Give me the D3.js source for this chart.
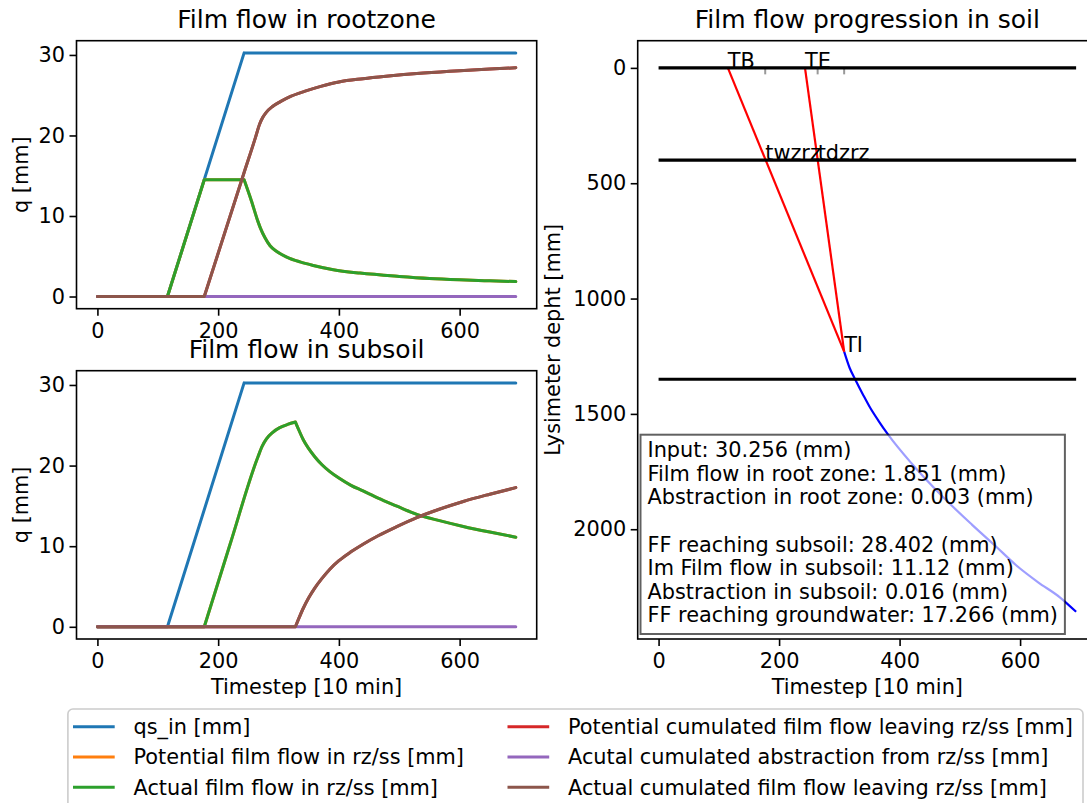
<!DOCTYPE html>
<html><head><meta charset="utf-8">
<script src="https://cdn.jsdelivr.net/npm/d3@7"></script>
<style>
body{margin:0;background:#fff}
svg{display:block;font-family:"DejaVu Sans",sans-serif}
</style></head><body>
<svg id="c" width="1087" height="803"></svg>
<script>
// ---------------- data ----------------
const seriesLabels = ["qs_in [mm]","Potential film flow in rz/ss [mm]","Actual film flow in rz/ss [mm]",
  "Potential cumulated film flow leaving rz/ss [mm]","Acutal cumulated abstraction from rz/ss [mm]",
  "Actual cumulated film flow leaving rz/ss [mm]"];
const seriesColors = ["#1f77b4","#ff7f0e","#2ca02c","#d62728","#9467bd","#8c564b"];

const qsIn = [[0,0],[116,0],[243,30.256],[693,30.256]];
const qsInCorners = [116,243];

// root zone
const rzActFilm = [[0,0],[116,0],[177,14.5],[243,14.5],[255,11.9],[266,9.3],[270,8.5],[277.6,7.3],[286,6.3],
  [297,5.6],[313.6,4.9],[335.6,4.3],[357.6,3.86],[390.8,3.33],[435,2.91],[500,2.5],[550,2.25],[600,2.08],[650,1.95],[693,1.851]];
const rzActFilmCorners = [116,177,243];
const rzPotFilm = rzActFilm;
const rzActCum = [[0,0],[177,0],[243,15.4],[262,19.8],[268.6,21.4],[274,22.25],[280,22.9],[290,23.6],[303,24.2],
  [320,24.85],[344,25.5],[370,26.1],[400,26.65],[440,27.05],[478,27.35],[540,27.75],[600,28.05],[650,28.25],[693,28.402]];
const rzActCumCorners = [177];
const rzPotCum = rzActCum;
const rzAbstr = [[0,0],[693,0.003]];

// subsoil
const ssActFilm = [[0,0],[177,0],[220,10.3],[266,21.1],[273,22.4],[280,23.3],[290,24.1],[302,24.7],[315,25.1],[328,25.4],
  [334,24.35],[341,23.2],[350,22.1],[360,21.1],[372,20.1],[385,19.25],[400,18.45],[420,17.55],[440,16.85],[465,15.95],
  [495,15.0],[529,13.95],[565,13.2],[606,12.45],[650,11.75],[693,11.12]];
const ssActFilmCorners = [177,328];
const ssPotFilm = ssActFilm;
const ssActCum = [[0,0],[328,0],[334,1.1],[341,2.3],[350,3.6],[360,4.8],[372,6.0],[385,7.15],[400,8.2],[420,9.3],
  [440,10.25],[465,11.3],[495,12.4],[529,13.55],[565,14.55],[606,15.55],[650,16.45],[693,17.266]];
const ssActCumCorners = [328];
const ssPotCum = ssActCum;
const ssAbstr = [[0,0],[693,0.016]];

// soil profile
const layerDepths = [0,400,1350];
const layerSpan = [0,693];
const frontLabels = ["TB","TE","twzrz","tdzrz","TI"];
const frontTimes  = [115,243,177,264,308];
const frontDepths = [0,0,400,400,1230];
const markerTimes = [177,264,308];
const markerDepth = 28;
const redFront1 = [[115,0],[308,1230]];
const redFront2 = [[243,0],[308,1230]];
const wettingFront = [[308,1230],[317,1300],[327,1354],[340,1420],[350,1468],[365,1530],[381,1590],[420,1715],
  [470,1855],[520,1980],[560,2075],[593,2155],[630,2230],[666,2295],[693,2358]];

const summaryLines = ["Input: 30.256 (mm)","Film flow in root zone: 1.851 (mm)","Abstraction in root zone: 0.003 (mm)","",
  "FF reaching subsoil: 28.402 (mm)","Im Film flow in subsoil: 11.12 (mm)","Abstraction in subsoil: 0.016 (mm)",
  "FF reaching groundwater: 17.266 (mm)"];

const timeTicks = [0,200,400,600];
const qTicks = [0,10,20,30];
const depthTicks = [0,500,1000,1500,2000];

// ---------------- drawing ----------------
const FS = 20.83, TFS = 25;
const svg = d3.select("#c");
const xDom = [-34.65, 727.65];
const qDom = [-1.513, 31.769];
const dDom = [-117.9, 2475.9];
const fmt = d3.format("d");

function seriesPath(pts, corners, xs, ys){
  const segs=[]; let cur=[pts[0]];
  for(let i=1;i<pts.length;i++){
    cur.push(pts[i]);
    if(corners.includes(pts[i][0]) && i<pts.length-1){ segs.push(cur); cur=[pts[i]]; }
  }
  segs.push(cur);
  return segs.map(s=>d3.line().x(d=>xs(d[0])).y(d=>ys(d[1]))
    .curve(s.length>2?d3.curveMonotoneX:d3.curveLinear)(s)).join("");
}

function styleAxis(g){
  g.select(".domain").remove();
  g.selectAll(".tick line").attr("stroke","#000").attr("stroke-width",1.6);
  g.selectAll(".tick text").attr("fill","#000").style("font-size",FS+"px").style("font-family","DejaVu Sans");
}

function frame(x0,x1,y0,y1){
  svg.append("rect").attr("x",x0).attr("y",y0).attr("width",x1-x0).attr("height",y1-y0)
    .attr("fill","none").attr("stroke","#000").attr("stroke-width",1.6);
}

function panel(y0,y1,title,series,xlabel){
  const x0=76.5,x1=536.7;
  const xs=d3.scaleLinear().domain(xDom).range([x0,x1]);
  const ys=d3.scaleLinear().domain(qDom).range([y1,y0]);
  const g=svg.append("g");
  series.forEach((s,i)=>{
    g.append("path").attr("d",seriesPath(s.pts,s.corners||[],xs,ys))
      .attr("fill","none").attr("stroke",seriesColors[i]).attr("stroke-width",3)
      .attr("stroke-linecap","round").attr("stroke-linejoin","round");
  });
  frame(x0,x1,y0,y1);
  svg.append("g").attr("transform",`translate(0,${y1})`)
    .call(d3.axisBottom(xs).tickValues(timeTicks).tickFormat(fmt).tickSize(7).tickPadding(7.3).tickSizeOuter(0)).call(styleAxis);
  svg.append("g").attr("transform",`translate(${x0},0)`)
    .call(d3.axisLeft(ys).tickValues(qTicks).tickFormat(fmt).tickSize(7).tickPadding(4.5).tickSizeOuter(0)).call(styleAxis);
  svg.append("text").attr("x",(x0+x1)/2).attr("y",y0-12.5).attr("text-anchor","middle")
    .style("font-size",TFS+"px").text(title);
  svg.append("text").attr("transform",`translate(28,${(y0+y1)/2}) rotate(-90)`).attr("text-anchor","middle")
    .style("font-size",FS+"px").text("q [mm]");
  if(xlabel) svg.append("text").attr("x",(x0+x1)/2).attr("y",694).attr("text-anchor","middle")
    .style("font-size",FS+"px").text(xlabel);
}

panel(40.7,308.7,"Film flow in rootzone",[
  {pts:qsIn,corners:qsInCorners},{pts:rzPotFilm,corners:rzActFilmCorners},{pts:rzActFilm,corners:rzActFilmCorners},
  {pts:rzPotCum,corners:rzActCumCorners},{pts:rzAbstr},{pts:rzActCum,corners:rzActCumCorners}],null);
panel(370.7,639,"Film flow in subsoil",[
  {pts:qsIn,corners:qsInCorners},{pts:ssPotFilm,corners:ssActFilmCorners},{pts:ssActFilm,corners:ssActFilmCorners},
  {pts:ssPotCum,corners:ssActCumCorners},{pts:ssAbstr},{pts:ssActCum,corners:ssActCumCorners}],"Timestep [10 min]");

// right panel
(function(){
  const x0=637.7,x1=1097,y0=40.7,y1=639;
  const xs=d3.scaleLinear().domain(xDom).range([x0,x1]);
  const ys=d3.scaleLinear().domain(dDom).range([y0,y1]);
  const g=svg.append("g");
  const line=d3.line().x(d=>xs(d[0])).y(d=>ys(d[1]));
  g.append("path").attr("d",line.curve(d3.curveMonotoneX)(wettingFront)).attr("fill","none")
    .attr("stroke","#0000ff").attr("stroke-width",2.2);
  line.curve(d3.curveLinear);
  [redFront1,redFront2].forEach(r=>g.append("path").attr("d",line(r)).attr("fill","none")
    .attr("stroke","#ff0000").attr("stroke-width",2.2));
  markerTimes.forEach(t=>g.append("line").attr("x1",xs(t)).attr("x2",xs(t)).attr("y1",ys(0)).attr("y2",ys(markerDepth))
    .attr("stroke","#999").attr("stroke-width",2));
  layerDepths.forEach(d=>g.append("line").attr("x1",xs(layerSpan[0])).attr("x2",xs(layerSpan[1]))
    .attr("y1",ys(d)).attr("y2",ys(d)).attr("stroke","#000").attr("stroke-width",3.1));
  frontLabels.forEach((lab,i)=>g.append("text").attr("x",xs(frontTimes[i])).attr("y",ys(frontDepths[i]))
    .style("font-size",FS+"px").text(lab));
  frame(x0,x1,y0,y1);
  svg.append("g").attr("transform",`translate(0,${y1})`)
    .call(d3.axisBottom(xs).tickValues(timeTicks).tickFormat(fmt).tickSize(7).tickPadding(7.3).tickSizeOuter(0)).call(styleAxis);
  svg.append("g").attr("transform",`translate(${x0},0)`)
    .call(d3.axisLeft(ys).tickValues(depthTicks).tickFormat(fmt).tickSize(7).tickPadding(4.5).tickSizeOuter(0)).call(styleAxis);
  svg.append("text").attr("x",(x0+x1)/2).attr("y",y0-12.5).attr("text-anchor","middle")
    .style("font-size",TFS+"px").text("Film flow progression in soil");
  svg.append("text").attr("transform",`translate(559.5,${(y0+y1)/2}) rotate(-90)`).attr("text-anchor","middle")
    .style("font-size",FS+"px").text("Lysimeter depht [mm]");
  svg.append("text").attr("x",(x0+x1)/2).attr("y",694).attr("text-anchor","middle")
    .style("font-size",FS+"px").text("Timestep [10 min]");
  // summary box
  const bx=svg.append("g");
  const rect=bx.append("rect");
  const tg=bx.append("g");
  summaryLines.forEach((s,i)=>tg.append("text").attr("x",647.5).attr("y",450+i*23.6+7.2)
    .style("font-size",FS+"px").text(s));
  const bb=tg.node().getBBox();
  rect.attr("x",640.5).attr("y",434.7).attr("width",bb.x+bb.width+7-640.5).attr("height",634-434.7)
    .attr("fill","rgba(255,255,255,0.62)").attr("stroke","rgba(0,0,0,0.62)").attr("stroke-width",2);
})();

// legend
(function(){
  const lg=svg.append("g");
  lg.append("rect").attr("x",67.9).attr("y",709).attr("width",1083-67.9).attr("height",110).attr("rx",5)
    .attr("fill","rgba(255,255,255,0.8)").attr("stroke","#cccccc").attr("stroke-width",1.6);
  const colX=[73,507.5];
  seriesLabels.forEach((lab,i)=>{
    const c=Math.floor(i/3), r=i%3;
    const cy=726.7+r*30.3;
    lg.append("line").attr("x1",colX[c]).attr("x2",colX[c]+41.7).attr("y1",cy).attr("y2",cy)
      .attr("stroke",seriesColors[i]).attr("stroke-width",3);
    lg.append("text").attr("x",colX[c]+60.5).attr("y",cy+7.2).style("font-size",FS+"px").text(lab);
  });
})();
</script>
</body></html>
